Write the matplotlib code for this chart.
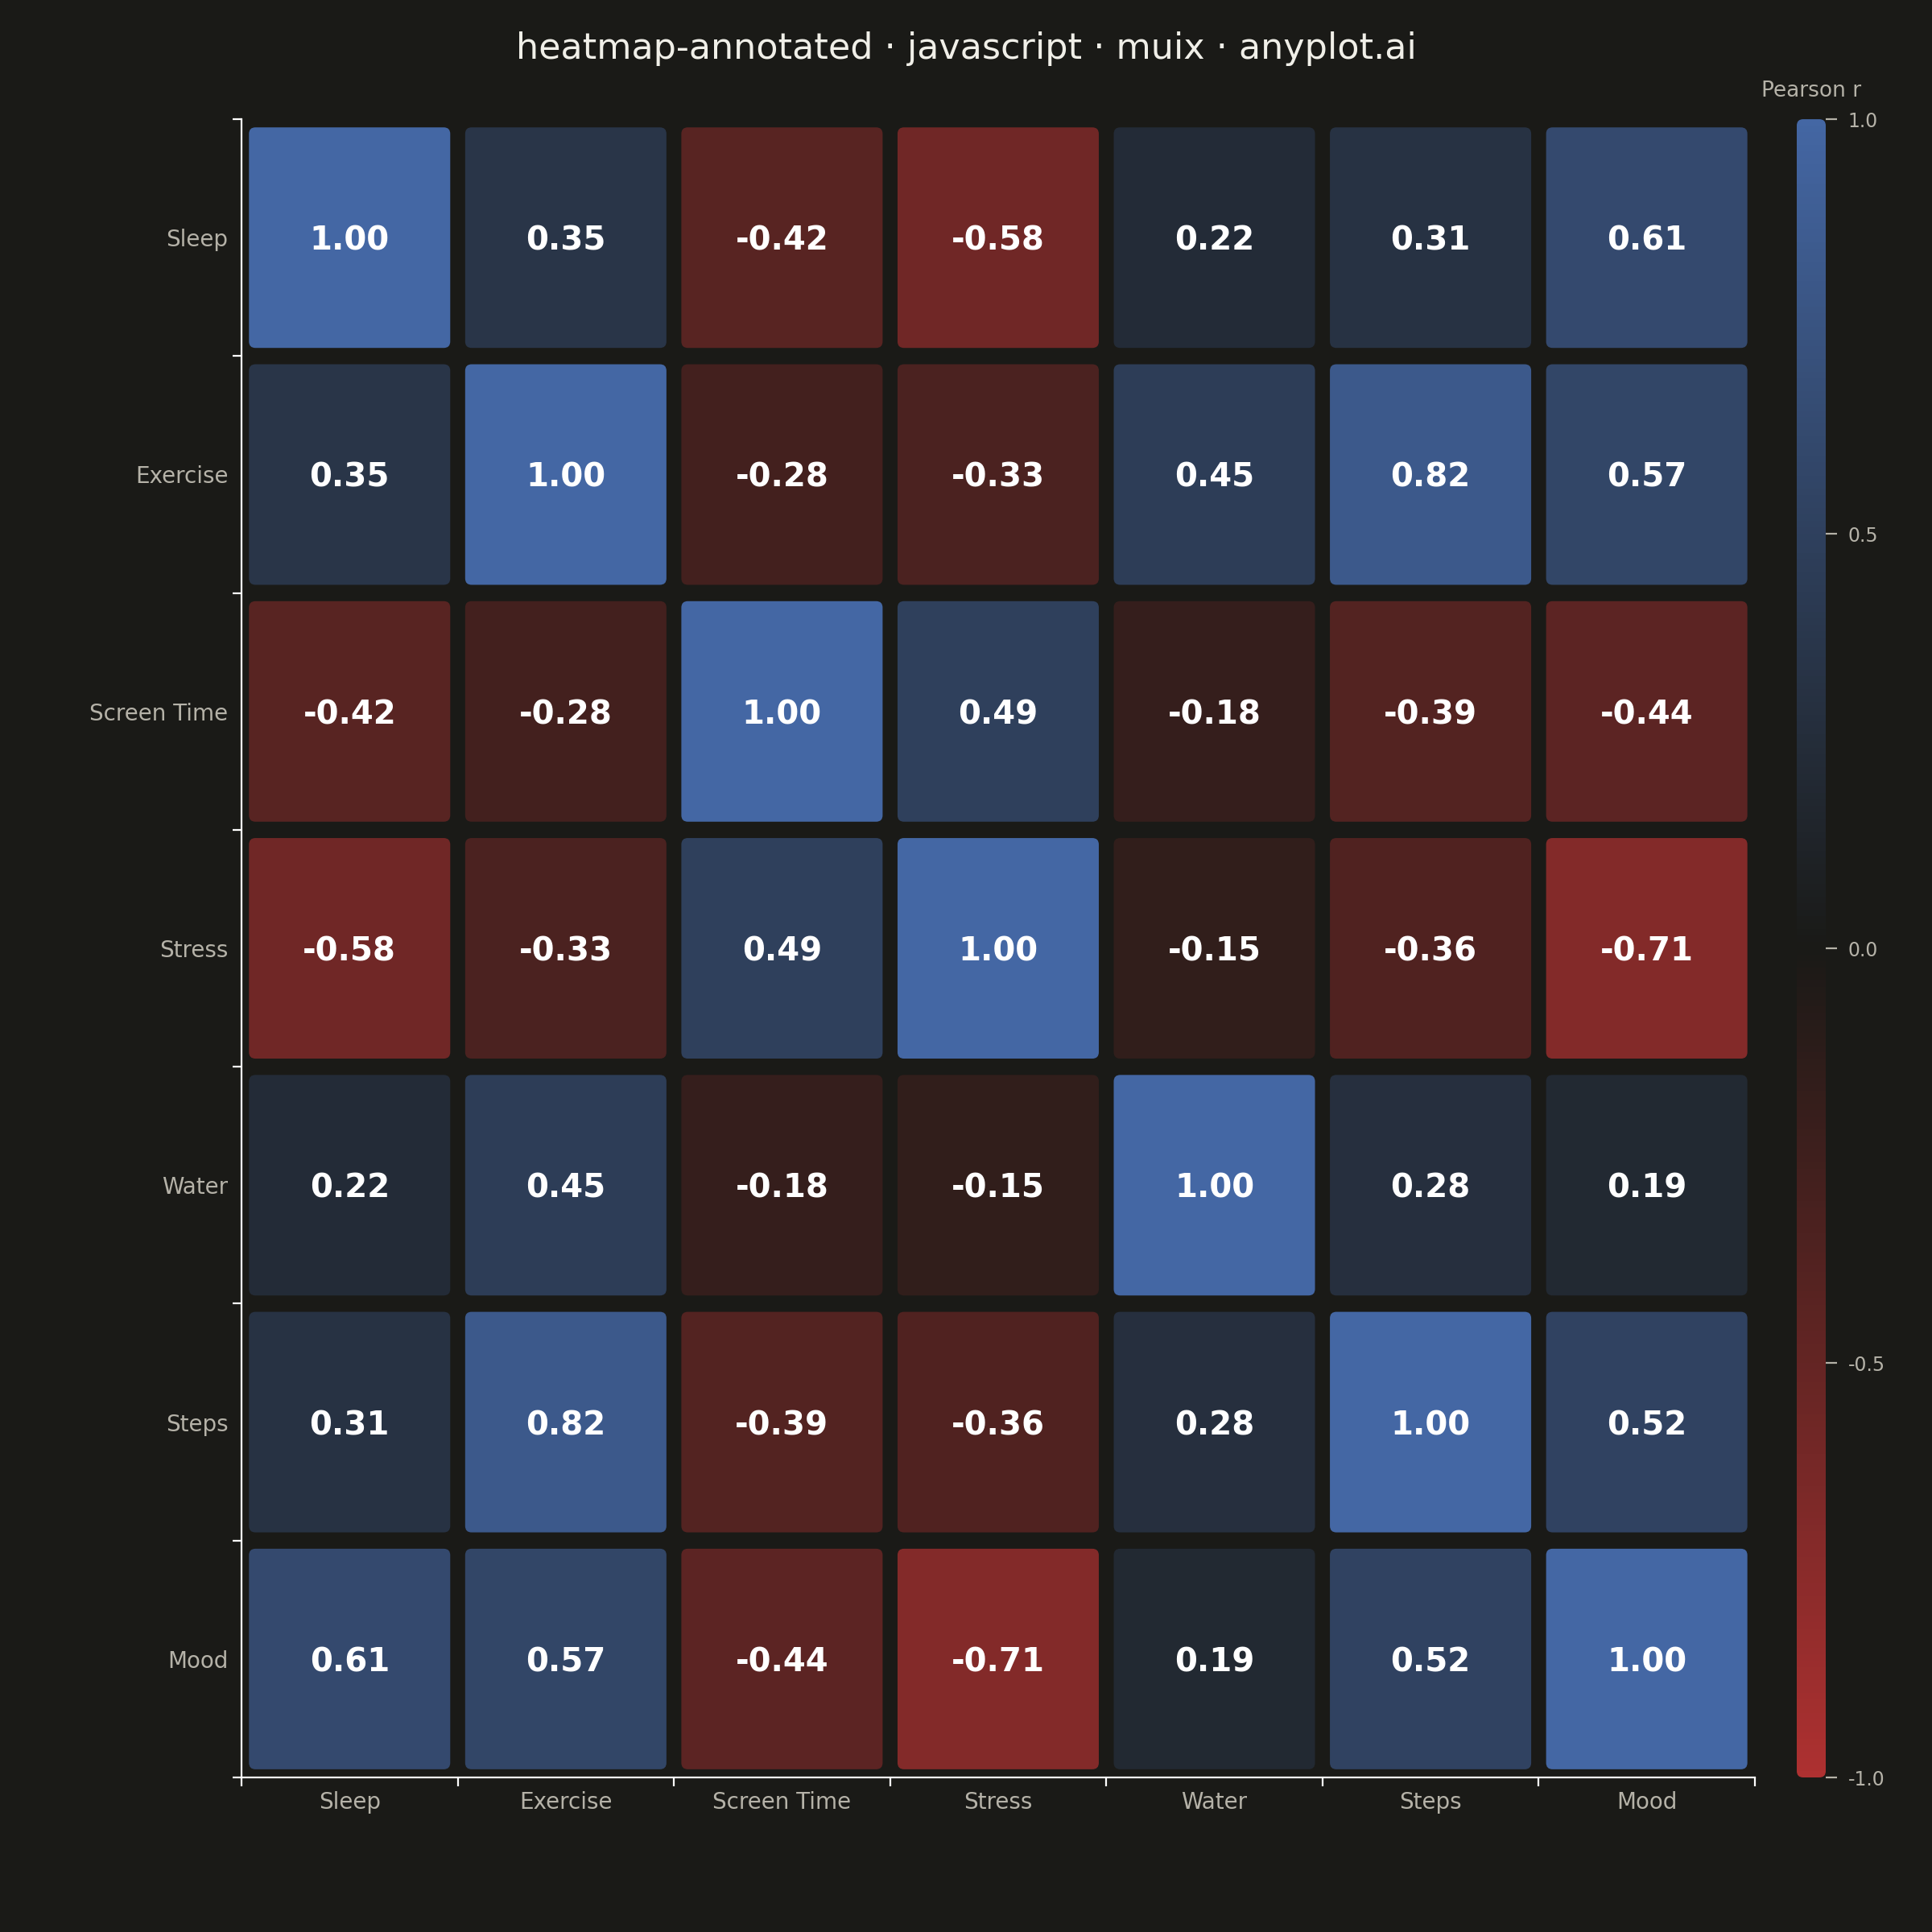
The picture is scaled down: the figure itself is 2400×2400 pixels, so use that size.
import numpy as np
import matplotlib
matplotlib.use("Agg")
import matplotlib.pyplot as plt
from matplotlib.colors import LinearSegmentedColormap, Normalize
from matplotlib.patches import FancyBboxPatch

plt.rcParams["font.family"] = ["DejaVu Sans"]
plt.rcParams["axes.unicode_minus"] = False

labels = ["Sleep", "Exercise", "Screen Time", "Stress", "Water", "Steps", "Mood"]
corr = [
    [1.00, 0.35, -0.42, -0.58, 0.22, 0.31, 0.61],
    [0.35, 1.00, -0.28, -0.33, 0.45, 0.82, 0.57],
    [-0.42, -0.28, 1.00, 0.49, -0.18, -0.39, -0.44],
    [-0.58, -0.33, 0.49, 1.00, -0.15, -0.36, -0.71],
    [0.22, 0.45, -0.18, -0.15, 1.00, 0.28, 0.19],
    [0.31, 0.82, -0.39, -0.36, 0.28, 1.00, 0.52],
    [0.61, 0.57, -0.44, -0.71, 0.19, 0.52, 1.00],
]
cbar_ticks = [-1.0, -0.5, 0.0, 0.5, 1.0]

bg = "#1a1a17"
tick_col = "#b5b2a8"
cmap = LinearSegmentedColormap.from_list("rb", ["#ae3131", bg, "#4467a4"])
norm = Normalize(-1, 1)

fig = plt.figure(figsize=(12, 12), dpi=200, facecolor=bg)
ax = fig.add_axes([0.125, 0.08, 0.7833, 0.8583])
ax.set_facecolor(bg)

n = len(labels)
inset = 0.0345
for i in range(n):
    for j in range(n):
        v = corr[i][j]
        box = FancyBboxPatch((j + inset, i + inset), 1 - 2 * inset, 1 - 2 * inset,
                             boxstyle="round,pad=0,rounding_size=0.03",
                             mutation_aspect=0.91, linewidth=0,
                             facecolor=cmap(norm(v)))
        ax.add_patch(box)
        ax.text(j + 0.5, i + 0.5, f"{v:.2f}", ha="center", va="center_baseline",
                color="white", fontsize=14.5, fontweight="bold")

ax.set_xlim(0, n)
ax.set_ylim(n, 0)
ax.set_xticks(np.arange(n + 1))
ax.set_yticks(np.arange(n + 1))
ax.set_xticklabels([])
ax.set_yticklabels([])
ax.set_xticks(np.arange(n) + 0.5, minor=True)
ax.set_yticks(np.arange(n) + 0.5, minor=True)
ax.set_xticklabels(labels, minor=True)
ax.set_yticklabels(labels, minor=True)
ax.tick_params(which="major", length=4, width=0.8, color="white")
ax.tick_params(which="minor", length=0, pad=6, labelsize=10, labelcolor=tick_col)
for s in ["top", "right"]:
    ax.spines[s].set_visible(False)
for s in ["left", "bottom"]:
    ax.spines[s].set_color("white")
    ax.spines[s].set_linewidth(0.8)

# colorbar
cax = fig.add_axes([0.93, 0.08, 0.015, 0.8583])
cax.set_facecolor(bg)
grad = np.linspace(-1, 1, 512).reshape(-1, 1)
im = cax.imshow(grad, cmap=cmap, norm=norm, aspect="auto", origin="lower",
                extent=[0, 1, -1, 1])
clip = FancyBboxPatch((0, -1), 1, 2, boxstyle="round,pad=0,rounding_size=0.22",
                      mutation_aspect=0.035, transform=cax.transData,
                      facecolor="none", linewidth=0)
cax.add_patch(clip)
im.set_clip_path(clip)
cax.set_xlim(0, 1)
cax.set_ylim(-1, 1)
cax.set_xticks([])
cax.yaxis.tick_right()
cax.set_yticks(cbar_ticks)
cax.set_yticklabels([f"{t:.1f}" for t in cbar_ticks])
cax.tick_params(axis="y", length=5, width=0.8, color=tick_col, pad=5,
                labelsize=8.5, labelcolor=tick_col)
for s in cax.spines.values():
    s.set_visible(False)

fig.text(0.9375, 0.953, "Pearson r", ha="center", va="center",
         fontsize=9.5, color=tick_col)
fig.text(0.5, 0.9746, "heatmap-annotated · javascript · muix · anyplot.ai",
         ha="center", va="center", fontsize=16, color="#f0efe8")

fig.savefig("out.png", dpi=200, facecolor=bg)
